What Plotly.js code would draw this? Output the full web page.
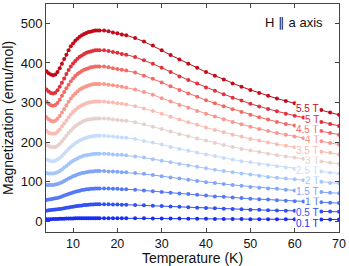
<!DOCTYPE html>
<html>
<head>
<meta charset="utf-8">
<script src="https://cdn.plot.ly/plotly-3.0.1.min.js"></script>
<style>html,body{margin:0;padding:0;background:#fff;}#chart{width:349px;height:266px;}</style>
</head>
<body>
<div id="chart"></div>
<script>
// Temperature grid (K)
const T = [4,4.5,5,5.5,6,6.5,7,7.5,8,8.5,9,9.5,10,10.5,11,11.5,12,12.5,13,13.5,14,14.5,15,15.5,16,
  17,18,19,20,21,22,24,26,28,30,32,34,36,38,40,42,44,46,48,50,52,54,56,58,60,62,64,66,68,70];

// Magnetization (emu/mol) per field
const M_0p1 = [5,5.2,5.4,5.6,5.8,6,6.2,6.4,6.6,6.8,7,7.2,7.4,7.5,7.6,7.7,7.8,7.9,7.9,8,8,8,8,8,8,
  8,8,8,7.9,7.9,7.8,7.7,7.5,7.4,7.2,7,6.8,6.6,6.4,6.3,6.1,5.9,5.8,5.6,5.5,5.4,5.2,5.1,5,4.9,4.8,4.7,4.6,4.5,4.4];
const M_0p5 = [27,28,28.5,29,30,30.5,31,32,33,34,35,36,37,38,39,39.5,40,41,41.5,42,42.5,42.5,43,43,43,
  43,43,42.5,42.5,42,42,41,40.5,39.5,38.5,37.5,36.5,35.5,34.5,33.5,33,32,31,30.5,29.5,29,28,27.5,27,26.5,26,25.5,25,24.5,24];
const M_1 = [54,55,56,57,58,59,61,63,65,67,69,71,73,75,76,77,79,80,81,81,82,82,83,83,83,
  83,83,82,82,81,81,80,78,76,74,72,70,69,67,65,63,62,60,59,57,56,55,53,52,51,50,49,48,47,46];
const M_1p5 = [92,92,92,92,93,94,96,99,102,105,108,111,114,116,118,120,122,123,124,125,126,126,127,127,127,
  127,126,126,125,124,124,122,120,117,114,111,108,105,102,99,97,94,92,90,87,85,83,82,80,78,77,75,74,72,71];
const M_2 = [122,121,121,121,122,124,127,131,136,140,145,149,153,156,159,162,164,166,167,168,169,170,171,171,171,
  171,170,169,168,168,167,164,161,157,153,149,145,141,138,134,130,127,124,121,118,115,112,110,108,106,104,102,100,97,96];
const M_2p5 = [156,154,152,152,153,156,160,165,171,177,183,188,193,197,201,204,207,209,211,213,214,215,216,216,216,
  216,215,214,213,212,211,208,203,199,194,188,183,178,174,169,165,160,156,152,149,145,142,139,136,133,131,128,126,123,121];
const M_3 = [193,190,188,187,188,191,196,202,209,216,223,229,235,240,244,248,251,254,256,257,258,259,260,260,260,
  260,259,257,256,255,254,250,245,239,233,227,220,215,209,204,198,193,188,183,179,175,171,167,164,161,158,154,151,148,145];
const M_3p5 = [228,224,222,221,222,226,232,240,247,255,263,270,276,281,286,290,293,296,298,300,301,302,303,303,303,
  303,301,300,298,297,295,291,285,279,272,264,257,250,244,237,231,225,219,214,208,204,199,195,191,187,184,180,176,173,169];
const M_4 = [263,258,254,252,254,259,266,275,284,293,302,310,317,323,328,333,336,339,341,343,345,346,347,347,347,
  347,345,344,342,340,338,333,327,320,311,303,294,287,279,272,265,258,251,245,239,233,228,223,219,214,210,206,202,198,194];
const M_4p5 = [302,297,293,292,294,299,307,317,327,336,345,354,361,367,372,376,380,383,385,387,389,390,391,391,391,
  391,389,387,385,383,381,376,368,360,351,341,332,323,315,306,298,291,283,276,269,263,257,251,246,242,237,232,228,223,219];
const M_5 = [333,328,324,323,325,331,340,350,361,372,382,391,399,405,411,416,419,423,426,428,429,431,432,432,432,
  432,430,428,426,423,421,415,407,398,388,377,366,357,348,338,330,321,312,305,297,290,284,278,272,267,262,257,251,246,241];
const M_5p5 = [379,374,371,369,371,377,387,398,410,421,432,442,449,456,461,466,470,473,476,478,479,481,482,482,482,
  482,480,477,475,472,470,463,454,444,432,420,409,398,388,377,368,358,348,340,332,324,317,310,304,298,292,286,281,275,269];

const fieldLabels = ["0.1 T","0.5 T","1 T","1.5 T","2 T","2.5 T","3 T","3.5 T","4 T","4.5 T","5 T","5.5 T"];
const seriesM = [M_0p1,M_0p5,M_1,M_1p5,M_2,M_2p5,M_3,M_3p5,M_4,M_4p5,M_5,M_5p5];
const colors = ["rgb(25,45,245)","rgb(50,80,242)","rgb(85,120,246)","rgb(130,165,250)","rgb(165,198,252)",
  "rgb(200,220,250)","rgb(232,208,204)","rgb(250,188,178)","rgb(250,150,140)","rgb(243,105,100)",
  "rgb(225,50,60)","rgb(195,10,25)"];
const labelShift = [-3.6,-1.3,0,0,0,0,0,0,0,0,0,0];

const traces = seriesM.map((m, i) => ({
  x: T, y: m, type: 'scatter', mode: 'lines+markers',
  line: {color: colors[i], width: 1},
  marker: {color: colors[i], size: 4},
  showlegend: false, hoverinfo: 'skip'
}));

const labelIdx = T.indexOf(64);
const annotations = seriesM.map((m, i) => ({
  x: 65.8, y: m[labelIdx], xref: 'x', yref: 'y', xanchor: 'right', yanchor: 'middle',
  yshift: labelShift[i],
  text: fieldLabels[i], showarrow: false, bgcolor: '#ffffff', borderpad: 0,
  font: {family: 'Liberation Sans, Arial, sans-serif', size: 10, color: colors[i]}
}));
annotations.push({
  xref: 'paper', yref: 'paper', x: 0.952, y: 0.917, xanchor: 'right', yanchor: 'middle',
  text: 'H ∥ a axis', showarrow: false,
  font: {family: 'Liberation Sans, Arial, sans-serif', size: 13, color: '#111'}
});

const axisCommon = {
  showgrid: false, zeroline: false, showline: true, linecolor: '#444', linewidth: 1,
  mirror: 'ticks', ticks: 'inside', ticklen: 4, tickcolor: '#444',
  tickfont: {family: 'Liberation Sans, Arial, sans-serif', size: 13, color: '#111'}
};

const layout = {
  width: 349, height: 266,
  margin: {l: 46, r: 10, t: 4, b: 34},
  paper_bgcolor: '#fff', plot_bgcolor: '#fff',
  xaxis: Object.assign({}, axisCommon, {
    range: [3.9, 70], tickvals: [10,20,30,40,50,60,70],
    tickfont: {family: 'Liberation Sans, Arial, sans-serif', size: 12.5, color: '#111'},
    title: {text: 'Temperature (K)', standoff: 4, font: {family: 'Liberation Sans, Arial, sans-serif', size: 14, color: '#111'}}
  }),
  yaxis: Object.assign({}, axisCommon, {
    range: [-27, 549], tickvals: [0,100,200,300,400,500],
    title: {text: 'Magnetization (emu/mol)', standoff: 4, font: {family: 'Liberation Sans, Arial, sans-serif', size: 14, color: '#111'}}
  }),
  annotations: annotations
};

Plotly.newPlot('chart', traces, layout, {displayModeBar: false, staticPlot: true});
</script>
</body>
</html>
